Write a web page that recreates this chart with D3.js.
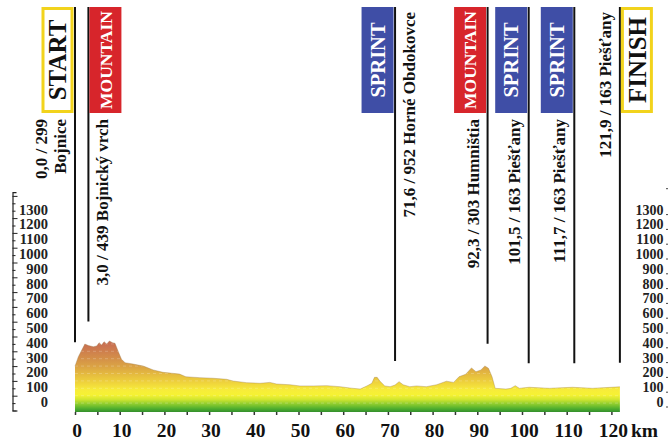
<!DOCTYPE html>
<html>
<head>
<meta charset="utf-8">
<script src="https://cdn.jsdelivr.net/npm/d3@7"></script>
<style>
  body { margin: 0; background: #fff; }
  svg { display: block; }
  text { font-family: "Liberation Serif", "Times New Roman", serif; }
</style>
</head>
<body>
<svg width="668" height="441"></svg>
<script>
// profile (km, altitude m)
var profileKm  = [0, 0.75, 2.2, 3.0, 4.1, 4.85, 5.4, 5.95, 6.5, 7.1, 7.7, 8.4, 8.95, 9.7, 10.4, 11.2, 13.0, 15.3, 17.5, 19.7, 21.9, 23.4, 24.8, 27.9, 30.9, 33.9, 35.4, 38.4, 41.4, 43.6, 45.1, 48.1, 50.3, 53.3, 56.3, 59.3, 61.5, 63.8, 65.3, 66.4, 67.0, 67.6, 68.2, 69.3, 70.5, 71.6, 72.5, 73.4, 74.9, 76.4, 78.6, 80.9, 83.1, 84.7, 85.9, 87.4, 88.7, 89.7, 90.8, 91.7, 92.5, 93.3, 94.0, 96.4, 97.5, 98.5, 99.4, 101.6, 106.1, 111.3, 115.8, 121.9];
var profileAlt = [299, 364, 449, 439, 431, 436, 458, 442, 465, 449, 470, 458, 454, 397, 346, 323, 314, 300, 274, 258, 251, 246, 228, 222, 218, 211, 199, 188, 184, 190, 179, 174, 166, 166, 168, 161, 152, 145, 166, 184, 224, 224, 199, 166, 161, 172, 195, 174, 161, 166, 161, 174, 198, 190, 228, 245, 288, 262, 274, 301, 285, 228, 150, 145, 150, 168, 150, 157, 150, 157, 150, 160];

// stage points
var markerKm    = [0.0, 3.0, 71.6, 92.3, 101.5, 111.7, 121.9];
var markerAlt   = [299, 439, 952, 303, 163, 163, 163];
var markerPlace = ["Bojnice", "Bojnický vrch", "Horné Obdokovce", "Humništia", "Piešťany", "Piešťany", "Piešťany"];
var markerType  = ["START", "MOUNTAIN", "SPRINT", "MOUNTAIN", "SPRINT", "SPRINT", "FINISH"];

// axis ticks
var altTicks = [0, 100, 200, 300, 400, 500, 600, 700, 800, 900, 1000, 1100, 1200, 1300];
var kmTicks  = [0, 10, 20, 30, 40, 50, 60, 70, 80, 90, 100, 110, 120];

var svg = d3.select("svg");

var x = d3.scaleLinear().domain([0, 120]).range([75, 611.4]);
var y = d3.scaleLinear().domain([0, 1475]).range([410.5, 192.2]);

var profile = profileKm.map(function(k, i){ return {km: k, alt: profileAlt[i]}; });

// altitude gradient
var defs = svg.append("defs");
var grad = defs.append("linearGradient")
    .attr("id", "altGrad")
    .attr("gradientUnits", "userSpaceOnUse")
    .attr("x1", 0).attr("x2", 0)
    .attr("y1", y(0) + 2).attr("y2", y(480));
var gradStops = [
    [0, "#2f8a2c"], [25, "#4fae2e"], [55, "#8ccc2e"], [85, "#cfe52f"],
    [115, "#f6f233"], [150, "#f7ec3a"], [190, "#f0d63c"], [240, "#e7c03e"],
    [300, "#dba444"], [370, "#d28a4a"], [430, "#cb7650"], [480, "#c66852"]
];
grad.selectAll("stop").data(gradStops).enter().append("stop")
    .attr("offset", function(d){ return d[0] / 480; })
    .attr("stop-color", function(d){ return d[1]; });

var area = d3.area()
    .x(function(d){ return x(d.km); })
    .y0(y(0) + 1.5)
    .y1(function(d){ return y(d.alt); });

defs.append("clipPath").attr("id", "profClip")
  .append("path").attr("d", area(profile));

svg.append("path")
    .attr("d", area(profile))
    .attr("fill", "url(#altGrad)");

// faint bands inside the profile
svg.append("g")
    .attr("clip-path", "url(#profClip)")
  .selectAll("line")
  .data([50, 100, 150, 200, 250, 300, 350, 400, 450])
  .enter().append("line")
    .attr("x1", x(0)).attr("x2", x(122))
    .attr("y1", function(d){ return y(d); })
    .attr("y2", function(d){ return y(d); })
    .attr("stroke", "#fff")
    .attr("stroke-opacity", 0.22)
    .attr("stroke-dasharray", "3,3");

svg.append("path")
    .datum(profile)
    .attr("d", d3.line().x(function(d){ return x(d.km); }).y(function(d){ return y(d.alt); }))
    .attr("fill", "none")
    .attr("stroke", "#9a7a4a")
    .attr("stroke-opacity", 0.45)
    .attr("stroke-width", 0.8);

// left altitude axis
var minorAlt = d3.range(0, 1476, 50);
var leftAxis = svg.append("g")
    .attr("transform", "translate(12.5,0)")
    .call(d3.axisRight(y).tickValues(minorAlt).tickSizeOuter(0)
        .tickSize(4).tickFormat(function(d){ return altTicks.indexOf(d) >= 0 ? d : ""; }));
leftAxis.select(".domain").attr("stroke", "#222").attr("stroke-width", 1.2);
leftAxis.selectAll(".tick line")
    .attr("stroke", "#222")
    .attr("x2", function(d){ return altTicks.indexOf(d) >= 0 || d === 1450 ? 5 : 3; });
leftAxis.selectAll(".tick text")
    .attr("x", 35.5).attr("dy", "-0.28em")
    .attr("text-anchor", "end")
    .style("font-size", "14.5px").style("font-weight", "bold")
    .style("font-family", "'Liberation Serif', serif")
    .attr("fill", "#222");

// right altitude axis
var rightAxis = svg.append("g")
    .attr("transform", "translate(669,0)")
    .call(d3.axisLeft(y).tickValues(altTicks.concat([1475])).tickSize(3).tickSizeOuter(0)
        .tickFormat(function(d){ return d > 1300 ? "" : d; }));
rightAxis.select(".domain").remove();
rightAxis.selectAll(".tick line").attr("stroke", "#444")
    .attr("transform", "translate(0,-4)");
rightAxis.selectAll(".tick text")
    .attr("x", -5.5).attr("dy", "-0.28em")
    .style("font-size", "14px").style("font-weight", "bold")
    .style("font-family", "'Liberation Serif', serif")
    .attr("fill", "#222");

// km axis
var xAxis = svg.append("g")
    .attr("transform", "translate(0," + (y(0) + 1.5) + ")")
    .call(d3.axisBottom(x).tickValues(d3.range(0, 121, 5)).tickSize(3).tickSizeOuter(0)
        .tickFormat(function(d){ return kmTicks.indexOf(d) >= 0 ? d : ""; }));
xAxis.select(".domain").remove();
xAxis.selectAll(".tick line").attr("stroke", "#333").attr("stroke-width", 1.5);
xAxis.selectAll(".tick text")
    .attr("y", 0).attr("dy", 0)
    .attr("transform", "translate(1.5,24.5)")
    .style("font-size", "19.5px").style("font-weight", "bold")
    .style("font-family", "'Liberation Serif', serif")
    .attr("fill", "#111");
svg.append("text")
    .attr("x", 631).attr("y", y(0) + 26)
    .style("font-size", "19.5px").style("font-weight", "bold")
    .attr("fill", "#111")
    .text("km");

// stage markers
var boxW = 32, boxTop = 7, boxH = 106;
var typeStyle = {
    START:    {fill: "#fff", stroke: "#f2d31c", color: "#111", size: 25, weight: "bold"},
    FINISH:   {fill: "#fff", stroke: "#f2d31c", color: "#111", size: 25, weight: "bold"},
    MOUNTAIN: {fill: "#d7252b", stroke: "none", color: "#fff", size: 17.5, weight: "bold"},
    SPRINT:   {fill: "#3f4ea6", stroke: "none", color: "#fff", size: 20.5, weight: "bold"}
};
// which side of the line the box and label go, and whether the label starts below the box or at the top
var labelLayout = [
    {box: "left",  side: "left",  at: "below", split: true},
    {box: "right", side: "right", at: "below"},
    {box: "left",  side: "right", at: "top"},
    {box: "left",  side: "left",  at: "below"},
    {box: "left",  side: "left",  at: "below"},
    {box: "left",  side: "left",  at: "below"},
    {box: "right", side: "left",  at: "top"}
];

var altAt = d3.scaleLinear().domain(profileKm).range(profileAlt);

var markers = markerKm.map(function(k, i){
    return {
        km: k, alt: markerAlt[i], place: markerPlace[i], type: markerType[i],
        lx: x(k),
        boxLeft: labelLayout[i].box === "left",
        layout: labelLayout[i]
    };
});

var mk = svg.selectAll("g.marker")
    .data(markers)
    .enter().append("g")
    .classed("marker", true);

mk.append("line")
    .attr("x1", function(d){ return d.lx; })
    .attr("x2", function(d){ return d.lx; })
    .attr("y1", boxTop)
    .attr("y2", function(d){ return y(altAt(d.km)) - 24; })
    .attr("stroke", "#111")
    .attr("stroke-width", 2);

mk.append("rect")
    .attr("x", function(d){
        var bx = d.boxLeft ? d.lx - 1.5 - boxW : d.lx + 1;
        return typeStyle[d.type].stroke === "none" ? bx : bx + 1.5;
    })
    .attr("y", function(d){ return typeStyle[d.type].stroke === "none" ? boxTop : boxTop + 1.5; })
    .attr("width", function(d){ return typeStyle[d.type].stroke === "none" ? boxW : boxW - 3; })
    .attr("height", function(d){ return typeStyle[d.type].stroke === "none" ? boxH : boxH - 3; })
    .attr("fill", function(d){ return typeStyle[d.type].fill; })
    .attr("stroke", function(d){ return typeStyle[d.type].stroke; })
    .attr("stroke-width", 3);

mk.append("text")
    .attr("transform", function(d){
        var cx = d.boxLeft ? d.lx - 1.5 - boxW / 2 : d.lx + 1 + boxW / 2;
        return "translate(" + cx + "," + (boxTop + boxH / 2) + ") rotate(-90)";
    })
    .attr("text-anchor", "middle")
    .attr("dy", "0.35em")
    .style("font-size", function(d){ return typeStyle[d.type].size + "px"; })
    .style("font-weight", function(d){ return typeStyle[d.type].weight; })
    .attr("fill", function(d){ return typeStyle[d.type].color; })
    .text(function(d){ return d.type; });

function kmLabel(d){ return d.km.toFixed(1).replace(".", ",") + " / " + d.alt; }

mk.each(function(d){
    var g = d3.select(this);
    var lines = d.layout.split ? [kmLabel(d), d.place] : [kmLabel(d) + " " + d.place];
    var ty = d.layout.at === "below" ? 119 : 12;
    lines.forEach(function(t, j){
        var n = lines.length;
        var bx = d.layout.side === "left"
            ? d.lx - 9 - (n - 1 - j) * 19
            : d.lx + 20 + j * 19;
        g.append("text")
            .attr("transform", "translate(" + bx + "," + ty + ") rotate(-90)")
            .attr("text-anchor", "end")
            .style("font-size", "17px")
            .style("font-weight", "bold")
            .attr("fill", "#111")
            .text(t);
    });
});
</script>
</body>
</html>
